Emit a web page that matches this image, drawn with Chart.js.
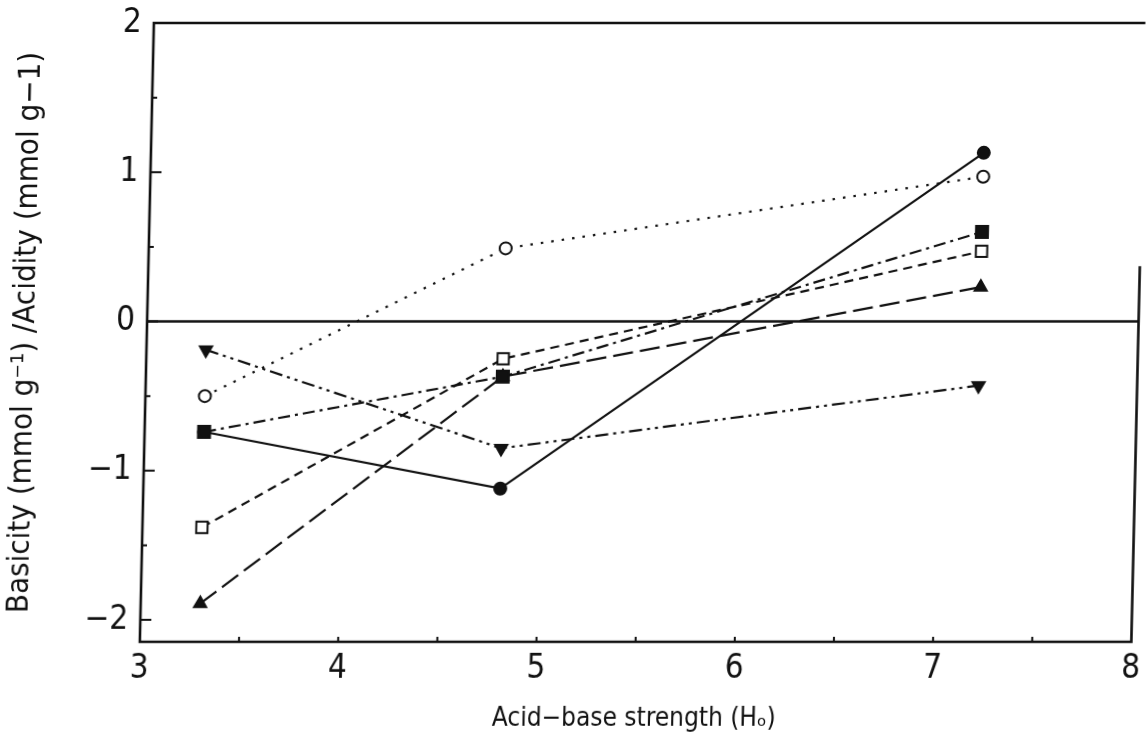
<!DOCTYPE html>
<html>
<head>
<meta charset="utf-8">
<title>Acid-base strength</title>
<script src="https://cdn.jsdelivr.net/npm/chart.js@4.4.1/dist/chart.umd.min.js"></script>
<style>
    html, body { margin: 0; padding: 0; background: #fff; }
    /* the printed figure leans slightly to the left */
    #wrap { width: 1148px; height: 739px; transform: skewX(-1.3deg); transform-origin: 574px 370px; }
</style>
</head>
<body>
<div id="wrap"><canvas id="acidBaseChart" width="1148" height="739"></canvas></div>
<script>
// H0 values where the samples were titrated
var strengths = [3.3, 4.8, 7.2];

// basicity (+) / acidity (-) in mmol g-1, one array per sample
var filledCircle = [-0.74, -1.12, 1.13];
var openCircle = [-0.50, 0.49, 0.97];
var filledSquare = [-0.74, -0.37, 0.60];
var openSquare = [-1.38, -0.25, 0.47];
var filledTriangle = [-1.89, -0.37, 0.23];
var downTriangle = [-0.19, -0.85, -0.43];

var xTickValues = [3, 4, 5, 6, 7, 8];
var yTickValues = [-2, -1, 0, 1, 2];
var xMinorTicks = [3.5, 4, 4.5, 5, 5.5, 6, 6.5, 7, 7.5];
var yMinorTicks = [-1.5, -0.5, 0.5, 1.5];

var fontStack = '"Liberation Sans Narrow", "DejaVu Sans Condensed", "Liberation Sans", sans-serif';
var ink = '#111';

function toPoints(values) {
    return values.map(function (v, i) {
        return { x: strengths[i], y: v };
    });
}

function series(values, style, fill, dash, radius, rotation) {
    return {
        data: toPoints(values),
        borderColor: ink,
        borderWidth: 2.2,
        borderDash: dash,
        borderCapStyle: 'butt',
        tension: 0,
        fill: false,
        pointStyle: style,
        pointRadius: radius,
        pointRotation: rotation || 0,
        pointBorderWidth: 2,
        pointBorderColor: ink,
        pointBackgroundColor: fill ? ink : '#fff'
    };
}

// frame (right side only runs part way up) and the little inward ticks
var frameAndTicks = {
    id: 'frameAndTicks',
    afterDraw: function (chart) {
        var ctx = chart.ctx;
        var a = chart.chartArea;
        var xs = chart.scales.x;
        var ys = chart.scales.y;
        ctx.save();
        ctx.strokeStyle = ink;
        ctx.lineWidth = 2.6;
        ctx.beginPath();
        ctx.moveTo(a.right, a.top);
        ctx.lineTo(a.left, a.top);
        ctx.lineTo(a.left, a.bottom);
        ctx.lineTo(a.right, a.bottom);
        ctx.lineTo(a.right, ys.getPixelForValue(0.37));
        ctx.stroke();

        ctx.lineWidth = 2;
        ctx.beginPath();
        yTickValues.forEach(function (v) {
            var py = ys.getPixelForValue(v);
            ctx.moveTo(a.left, py);
            ctx.lineTo(a.left + 11, py);
        });
        yMinorTicks.forEach(function (v) {
            var py = ys.getPixelForValue(v);
            ctx.moveTo(a.left, py);
            ctx.lineTo(a.left + 5, py);
        });
        xMinorTicks.forEach(function (v) {
            var px = xs.getPixelForValue(v);
            ctx.moveTo(px, a.bottom);
            ctx.lineTo(px, a.bottom - 5);
        });
        ctx.stroke();
        ctx.restore();
    }
};

var zeroLine = {
    data: [{ x: 3, y: 0 }, { x: 8, y: 0 }],
    borderColor: ink,
    borderWidth: 2.4,
    pointRadius: 0,
    fill: false
};

var ctx = document.getElementById('acidBaseChart');
var myChart = new Chart(ctx, {
    type: 'line',
    data: {
        datasets: [
            zeroLine,
            series(filledCircle, 'circle', true, [], 6),
            series(openCircle, 'circle', false, [2.5, 8], 6),
            series(filledSquare, 'rect', true, [12, 5, 3, 5], 8.5),
            series(openSquare, 'rect', false, [9, 6], 8),
            series(filledTriangle, 'triangle', true, [20, 7], 7),
            series(downTriangle, 'triangle', true, [13, 5, 3, 5, 3, 5], 7, 180)
        ]
    },
    options: {
        responsive: false,
        animation: false,
        layout: { padding: { top: 23, right: -1, left: 0, bottom: 0 } },
        plugins: {
            legend: { display: false },
            tooltip: { enabled: false }
        },
        scales: {
            x: {
                type: 'linear',
                min: 3,
                max: 8,
                grid: { display: false, drawTicks: false },
                border: { display: false },
                afterBuildTicks: function (scale) {
                    scale.ticks = xTickValues.map(function (v) { return { value: v }; });
                },
                afterFit: function (scale) {
                    scale.height = 97;
                    scale.paddingLeft = 0;
                    scale.paddingRight = 0;
                },
                ticks: {
                    color: ink,
                    padding: 8,
                    font: { family: fontStack, size: 33 }
                },
                title: {
                    display: true,
                    text: 'Acid\u2212base strength (H\u2092)',
                    color: ink,
                    padding: { top: 0, bottom: 4 },
                    font: { family: fontStack, size: 26 }
                }
            },
            y: {
                type: 'linear',
                min: -2.147,
                max: 2,
                grid: { display: false, drawTicks: false },
                border: { display: false },
                afterBuildTicks: function (scale) {
                    scale.ticks = yTickValues.map(function (v) { return { value: v }; });
                },
                afterFit: function (scale) {
                    scale.width = 146;
                    scale.paddingTop = 0;
                    scale.paddingBottom = 0;
                },
                ticks: {
                    color: ink,
                    padding: 12,
                    font: { family: fontStack, size: 33 },
                    callback: function (v) { return v < 0 ? '\u2212' + Math.abs(v) : String(v); }
                },
                title: {
                    display: true,
                    text: 'Basicity (mmol g\u207b\u00b9) /Acidity (mmol g\u22121)',
                    color: ink,
                    padding: { top: 6, bottom: 0 },
                    font: { family: fontStack, size: 31 }
                }
            }
        }
    },
    plugins: [frameAndTicks]
});
</script>
</body>
</html>
